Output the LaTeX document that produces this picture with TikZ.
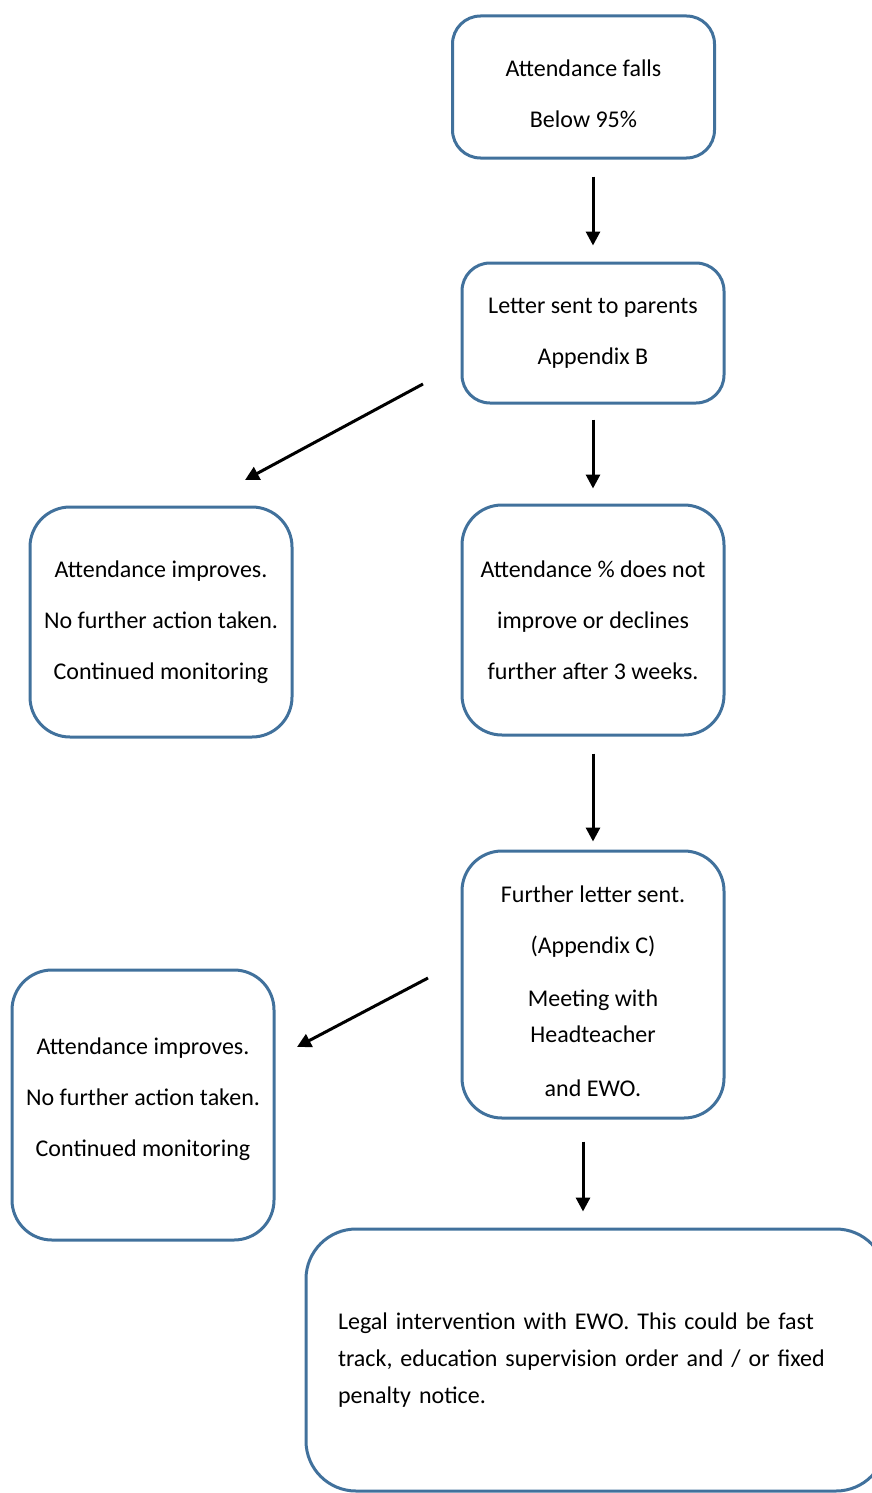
\documentclass[tikz,border=0pt]{standalone}
\usepackage{fontspec}
\setmainfont{Carlito}
\usetikzlibrary{arrows.meta}
\definecolor{boxblue}{RGB}{65,113,156}
\begin{document}
\begin{tikzpicture}[x=1pt,y=-1pt,
  box/.style={draw=boxblue, line width=3pt, rounded corners=28pt, align=center,
    inner sep=0pt, minimum width=262pt, font=\fontsize{24}{51}\selectfont},
  arr/.style={-{Triangle[length=14pt,width=14pt]}, line width=3pt, black}]
\useasboundingbox (0,0) rectangle (871,1493);
\node[box, minimum height=142pt] (b1) at (583.5,87) {\rule{0pt}{31pt}Attendance falls\\Below 95\%};
\node[box, minimum height=140pt] (b2) at (593,333) {Letter sent to parents\\Appendix B};
\node[box, minimum height=230pt, rounded corners=40pt] (b3) at (161,622) {Attendance improves.\\No further action taken.\\Continued monitoring};
\node[box, minimum height=230pt, rounded corners=40pt] (b4) at (593,620) {Attendance \% does not\\improve or declines\\further after 3 weeks.};
\node[box, minimum height=267pt, rounded corners=40pt] (b5) at (593,984.5) {\rule{0pt}{30pt}Further letter sent.\\(Appendix C)\\[2pt]Meeting with\\[-15pt]Headteacher\\[3pt]and EWO.};
\node[box, minimum height=270pt, rounded corners=40pt] (b6) at (143,1105) {Attendance improves.\\No further action taken.\\Continued monitoring\rule[-15pt]{0pt}{1pt}};
\node[box, minimum height=262pt, rounded corners=50pt, align=left, text width=516pt,
  inner xsep=32pt, font=\fontsize{24}{37}\selectfont] (b7) at (596,1360)
  {Legal intervention with EWO. This could be fast\\track, education supervision order and / or fixed\\penalty notice.};
\coordinate (d1s) at (423,384);
\coordinate (d1e) at (245,480);
\coordinate (d2s) at (428,978);
\coordinate (d2e) at (297,1047);
\draw[arr, shorten <=17pt, shorten >=16pt] (b1.south -| b2.north) -- (b2.north);
\draw[arr, shorten <=15pt, shorten >=15pt] (b2.south) -- (b4.north);
\draw[arr, shorten <=17pt, shorten >=8pt] (b4.south) -- (b5.north);
\draw[arr, shorten <=22pt, shorten >=16pt] ([xshift=-10pt]b5.south) -- ([xshift=-10pt]b5.south |- b7.north);
\draw[arr] (d1s) -- (d1e);
\draw[arr] (d2s) -- (d2e);
\end{tikzpicture}
\end{document}
